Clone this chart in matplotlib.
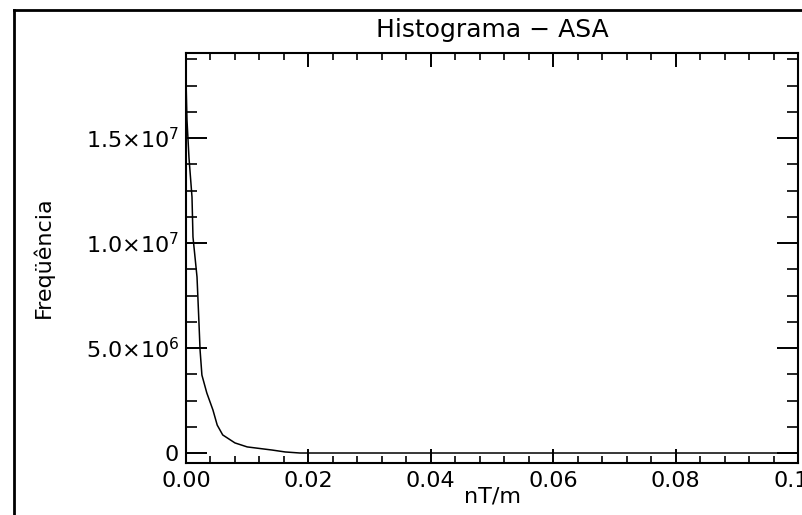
import matplotlib
matplotlib.use("Agg")
import matplotlib.pyplot as plt
from matplotlib.ticker import MultipleLocator, FixedLocator
from matplotlib.lines import Line2D

# data (histogram curve)
x_vals = [0.0, 0.00016, 0.00049, 0.00098, 0.00114, 0.0018, 0.0021, 0.0023,
          0.0026, 0.0034, 0.0044, 0.0051, 0.0060, 0.0080, 0.0100, 0.0141,
          0.0162, 0.0186, 0.1]
y_vals = [1.776e7, 1.586e7, 1.405e7, 1.219e7, 1.029e7, 8.38e6, 6.33e6, 4.90e6,
          3.71e6, 2.86e6, 2.05e6, 1.33e6, 8.6e5, 4.8e5, 2.9e5, 1.4e5,
          5e4, 0.0, 0.0]
x_ticks = [0.0, 0.02, 0.04, 0.06, 0.08, 0.10]
x_tick_labels = ["0.00", "0.02", "0.04", "0.06", "0.08", "0.10"]
y_ticks = [0, 5e6, 1e7, 1.5e7]
y_tick_labels = ["0", r"5.0$\times$10$^{6}$", r"1.0$\times$10$^{7}$", r"1.5$\times$10$^{7}$"]

plt.rcParams['font.family'] = ['DejaVu Sans']
plt.rcParams['mathtext.fontset'] = 'custom'
plt.rcParams['mathtext.rm'] = 'DejaVu Sans'
plt.rcParams['mathtext.it'] = 'DejaVu Sans'

W, H = 802, 515
fig = plt.figure(figsize=(W / 100, H / 100), dpi=100)
fig.patch.set_facecolor('white')

L, R, T, B = 186, 798, 53, 463
ax = fig.add_axes([L / W, 1 - B / H, (R - L) / W, (B - T) / H])
ax.plot(x_vals, y_vals, color='black', lw=1.1)

ax.set_xlim(0, 0.1)
ax.set_ylim(-4.76e5, 1.905e7)

ax.xaxis.set_major_locator(FixedLocator(x_ticks))
ax.xaxis.set_minor_locator(MultipleLocator(0.004))
ax.yaxis.set_major_locator(FixedLocator(y_ticks))
ax.yaxis.set_minor_locator(MultipleLocator(1.25e6))
ax.set_xticklabels(x_tick_labels)
ax.set_yticklabels(y_tick_labels)

for s in ax.spines.values():
    s.set_linewidth(1.5)

ax.tick_params(axis='both', which='both', direction='in', top=True, right=True,
               color='black', labelsize=16)
ax.tick_params(axis='x', which='major', length=10, width=1.4, pad=6)
ax.tick_params(axis='x', which='minor', length=5, width=1.2)
ax.tick_params(axis='y', which='major', length=15, width=1.4, pad=5)
ax.tick_params(axis='y', which='minor', length=8, width=1.2)

fig.text(492 / W, 1 - 30 / H, "Histograma \u2212 ASA", ha='center', va='center', fontsize=18)
fig.text(492 / W, 1 - 496 / H, "nT/m", ha='center', va='center', fontsize=16)
fig.text(43 / W, 1 - 257 / H, "Freqüência", ha='center', va='center', rotation=90, fontsize=16)

# outer frame (left and top visible)
fig.add_artist(Line2D([13.5 / W, 13.5 / W], [0, 1 - 10 / H], color='black', lw=2,
                      transform=fig.transFigure))
fig.add_artist(Line2D([13.5 / W, 1], [1 - 10 / H, 1 - 10 / H], color='black', lw=2,
                      transform=fig.transFigure))

fig.savefig("out.png", dpi=100)
